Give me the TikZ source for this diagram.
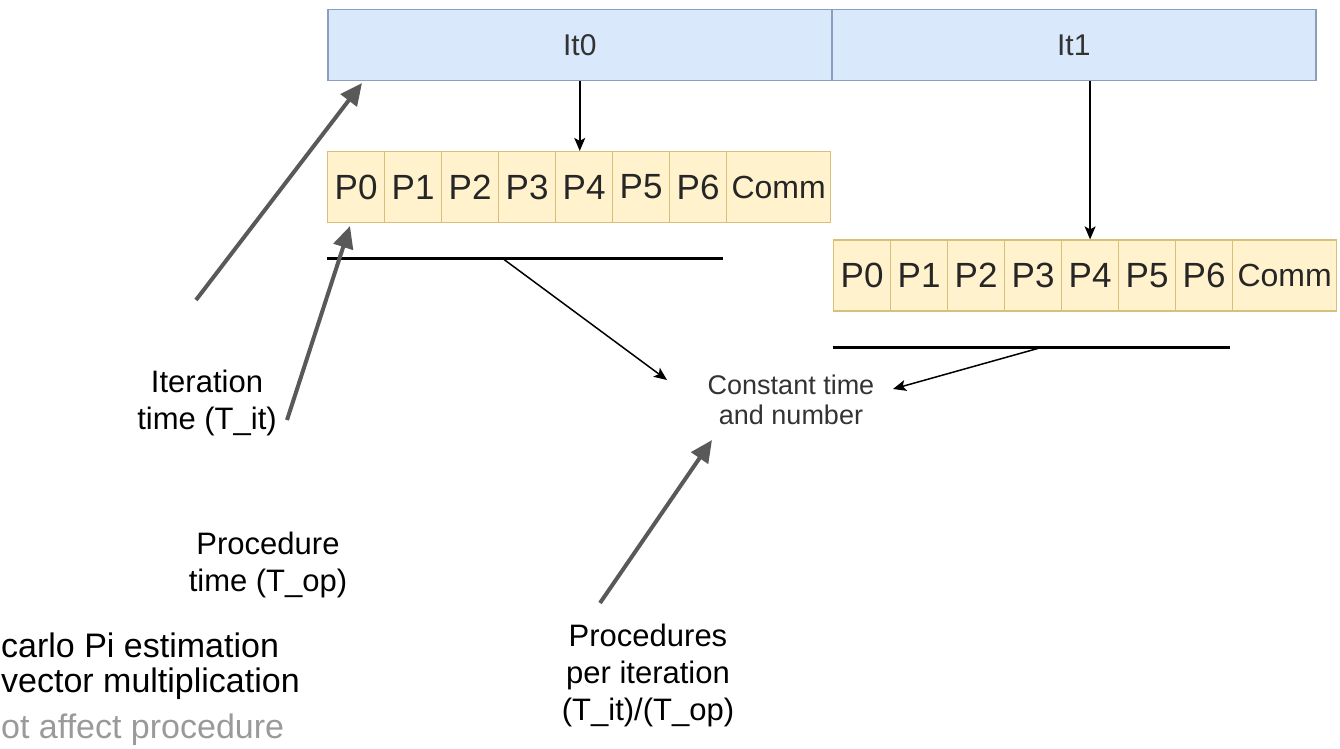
\documentclass[tikz,border=0pt]{standalone}
\usepackage{fontspec}
\setmainfont{Liberation Sans}
\usetikzlibrary{arrows.meta}

\definecolor{itfill}{HTML}{DAE8FC}
\definecolor{itdraw}{HTML}{8A9FC0}
\definecolor{pfill}{HTML}{FFF2CC}
\definecolor{pdraw}{HTML}{D6C07A}
\definecolor{callout}{HTML}{595959}
\definecolor{softtext}{HTML}{333333}
\definecolor{fadedtext}{HTML}{9A9A9A}

\begin{document}
\begin{tikzpicture}[x=1pt,y=-1pt,
  itbox/.style={draw=itdraw, fill=itfill, line width=1.5pt, minimum height=71pt,
    inner sep=0pt, anchor=west, text=softtext, font=\fontsize{30}{36}\selectfont},
  pcell/.style={draw=pdraw, fill=pfill, line width=1.2pt, minimum height=71pt,
    inner sep=0pt, anchor=west, text=black!85, font=\fontsize{35}{40}\selectfont},
  commcell/.style={pcell, font=\fontsize{32}{38}\selectfont},
  biglabel/.style={align=center, inner sep=0pt, font=\fontsize{31}{37}\selectfont},
  smalllabel/.style={align=center, inner sep=0pt, text=softtext, font=\fontsize{27}{30}\selectfont},
  sidetext/.style={inner sep=0pt, anchor=base west, font=\fontsize{34}{38}\selectfont},
  timeline/.style={line width=3pt, black},
  flow/.style={line width=1.5pt, black, -{Stealth[length=13pt, width=11pt, inset=3pt]}},
  pointer/.style={line width=4pt, callout, -{Triangle[length=22pt, width=20pt]}}
]
\useasboundingbox (0,0) rectangle (1340,748);
\clip (0,0) rectangle (1340,748);

% iteration bar
\node[itbox, minimum width=504pt] (it0) at (327,45) {It0};
\node[itbox, minimum width=484pt] (it1) at (831,45) {It1};

% procedure slots of the two iterations
\foreach \i in {0,...,6} {
  \node[pcell, minimum width=57pt] (ra\i) at (327+57*\i,187) {P\i};
  \node[pcell, minimum width=57pt] (rb\i) at (833+57*\i,275.5) {P\i};
}
\node[commcell, minimum width=104pt] (rac) at (726,187) {Comm};
\node[commcell, minimum width=104pt] (rbc) at (1232,275.5) {Comm};

% iteration to procedure arrows
\draw[flow] (it0.south) -- (it0.south |- ra4.north);
\draw[flow] (rb4.north |- it1.south) -- (rb4.north);

% time lines under each iteration
\coordinate (laa) at (327,258);
\coordinate (lab) at (723,258);
\coordinate (lba) at (833,347);
\coordinate (lbb) at (1230,347);
\draw[timeline] (laa) -- (lab);
\draw[timeline] (lba) -- (lbb);

% labels
\node[smalllabel] (const) at (791,400) {Constant time\\and number};
\node[biglabel] (iterlbl) at (207,403) {Iteration\\time (T\_it)};
\node[biglabel] (oplbl) at (268,565) {Procedure\\time (T\_op)};
\node[biglabel] (ppilbl) at (648,675) {Procedures\\per iteration\\(T\_it)/(T\_op)};

% thin arrows from the time lines
\coordinate (lam) at (502,258);
\coordinate (lbm) at (1043,347);
\coordinate (consta) at (667,380);
\coordinate (constb) at (893,389);
\draw[flow] (lam) -- (consta);
\draw[flow] (lbm) -- (constb);

% call-out pointers
\coordinate (itertail) at (196,300);
\coordinate (itertip) at (362,83);
\coordinate (optail) at (287,420);
\coordinate (optip) at (350,226);
\coordinate (ppitail) at (600,603);
\coordinate (ppitip) at (712,440);
\draw[pointer] (itertail) -- (itertip);
\draw[pointer] (optail) -- (optip);
\draw[pointer] (ppitail) -- (ppitip);

% notes along the lower left edge
\node[sidetext] (noteone) at (1,657) {carlo Pi estimation};
\node[sidetext] (notetwo) at (1,692) {vector multiplication};
\node[sidetext, text=fadedtext] (notethree) at (1,738) {ot affect procedure};
\end{tikzpicture}
\end{document}
